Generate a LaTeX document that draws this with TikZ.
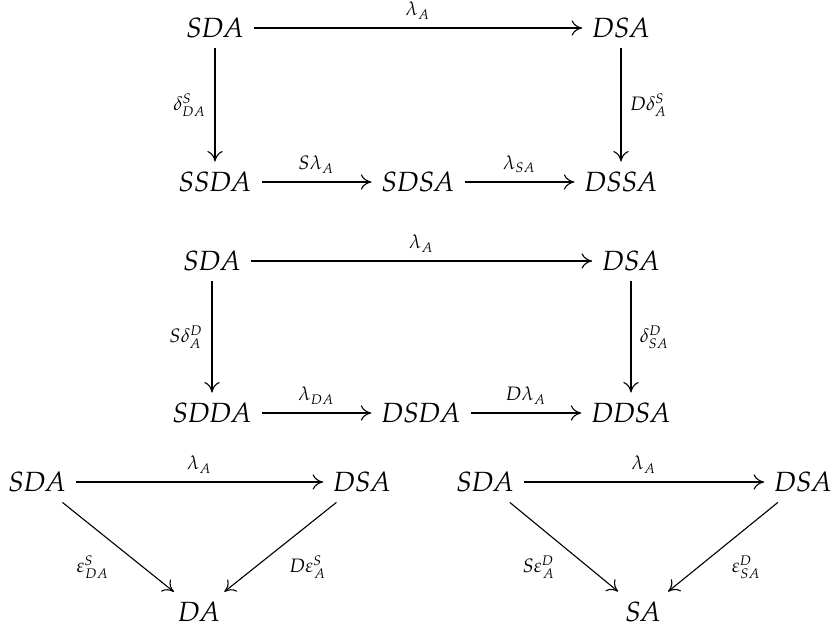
\documentclass[tikz,border=0pt]{standalone}
\usepackage{amsmath}
\usepackage{amssymb}
\usepackage{mathpazo}
\usetikzlibrary{arrows.meta}
\newcommand{\ob}[1]{$\mathit{#1}$}

\begin{document}
\begin{tikzpicture}[
  x=3.6pt,y=-3.6pt,
  obj/.style={inner sep=3.5pt},
  lab/.style={font=\scriptsize,inner sep=3pt},
  ->,>={To[length=3.8pt,width=5.5pt]},line width=0.4pt]
  \useasboundingbox(0,0) rectangle (83.4,63.1);
  % first square
  \node[obj](a1) at(21.5,2.8){\ob{SDA}};
  \node[obj](b1) at(62.1,2.8){\ob{DSA}};
  \node[obj](c1) at(21.5,18.2){\ob{SSDA}};
  \node[obj](d1) at(41.8,18.2){\ob{SDSA}};
  \node[obj](e1) at(62.1,18.2){\ob{DSSA}};
  \draw(a1)--node[lab,above]{$\lambda_A$}(b1);
  \draw(a1)--node[lab,left]{$\delta^S_{DA}$}(c1);
  \draw(b1)--node[lab,right]{$D\delta^S_A$}(e1);
  \draw(c1)--node[lab,above]{$S\lambda_A$}(d1);
  \draw(d1)--node[lab,above]{$\lambda_{SA}$}(e1);
  % second square
  \node[obj](a2) at(21.2,26.1){\ob{SDA}};
  \node[obj](b2) at(63.1,26.1){\ob{DSA}};
  \node[obj](c2) at(21.2,41.3){\ob{SDDA}};
  \node[obj](d2) at(42.1,41.3){\ob{DSDA}};
  \node[obj](e2) at(63.1,41.3){\ob{DDSA}};
  \draw(a2)--node[lab,above]{$\lambda_A$}(b2);
  \draw(a2)--node[lab,left]{$S\delta^D_A$}(c2);
  \draw(b2)--node[lab,right]{$\delta^D_{SA}$}(e2);
  \draw(c2)--node[lab,above]{$\lambda_{DA}$}(d2);
  \draw(d2)--node[lab,above]{$D\lambda_A$}(e2);
  % triangles
  \node[obj](a3) at(3.7,48.2){\ob{SDA}};
  \node[obj](b3) at(36.2,48.2){\ob{DSA}};
  \node[obj](c3) at(19.9,61.2){\ob{DA}};
  \draw(a3)--node[lab,above]{$\lambda_A$}(b3);
  \draw(a3)--node[lab,below left]{$\varepsilon^S_{DA}$}(c3);
  \draw(b3)--node[lab,below right]{$D\varepsilon^S_A$}(c3);
  \node[obj](a4) at(48.5,48.2){\ob{SDA}};
  \node[obj](b4) at(80.3,48.2){\ob{DSA}};
  \node[obj](c4) at(64.3,61.2){\ob{SA}};
  \draw(a4)--node[lab,above]{$\lambda_A$}(b4);
  \draw(a4)--node[lab,below left]{$S\varepsilon^D_A$}(c4);
  \draw(b4)--node[lab,below right]{$\varepsilon^D_{SA}$}(c4);
\end{tikzpicture}
\end{document}
